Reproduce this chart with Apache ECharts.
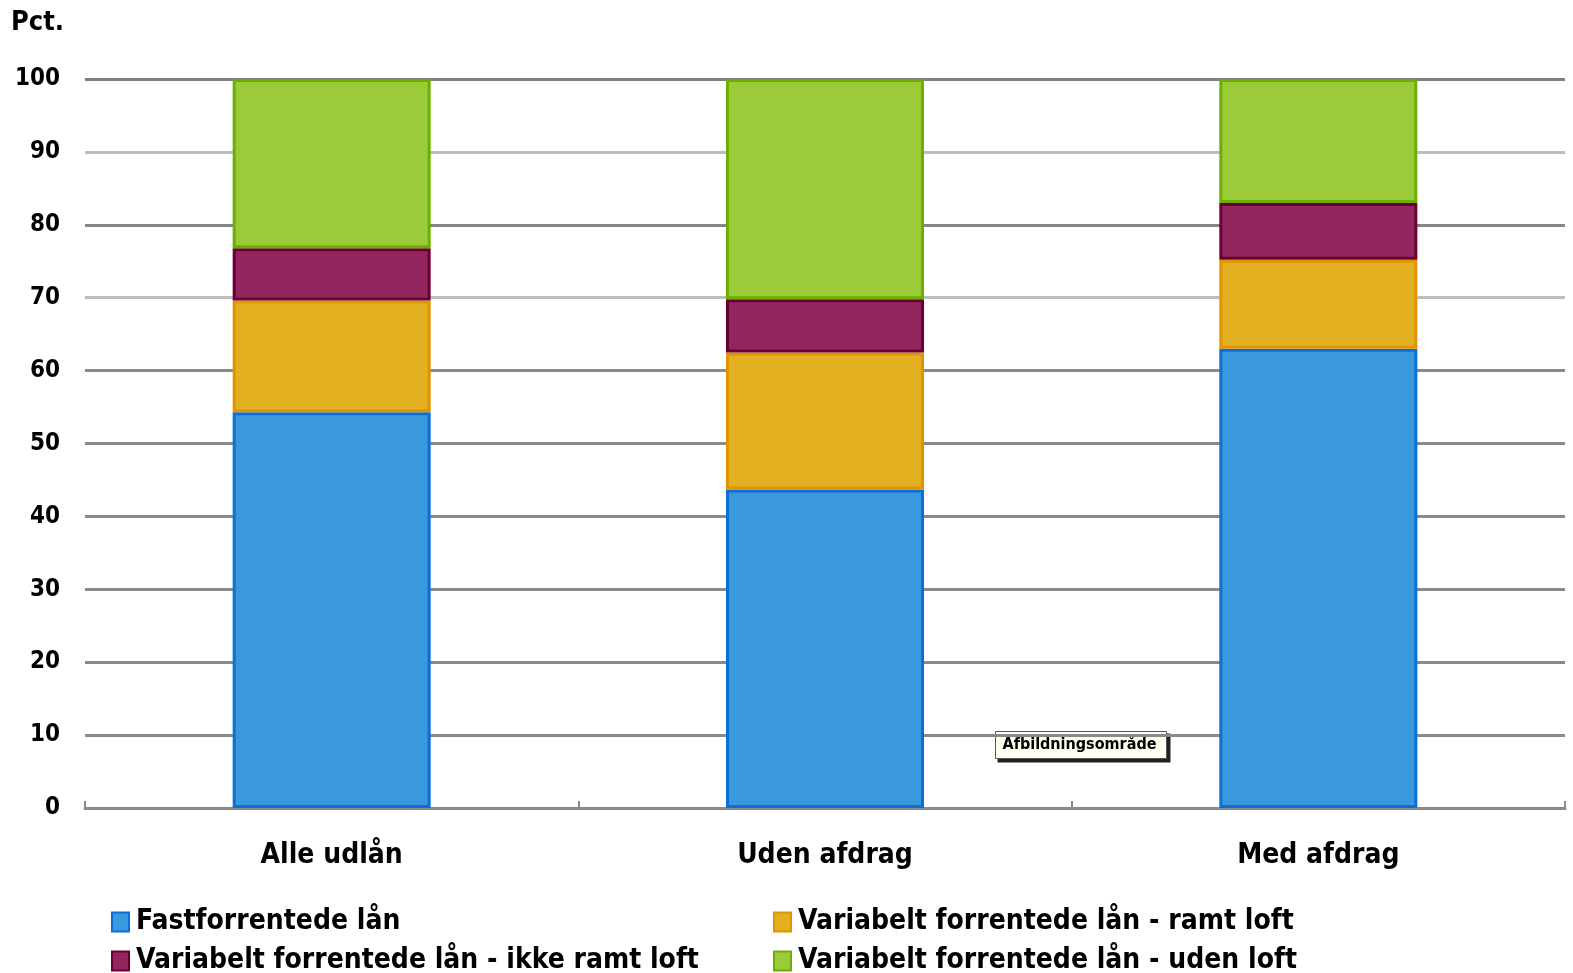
<!DOCTYPE html>
<html>
<head>
<meta charset="utf-8">
<script src="https://cdn.jsdelivr.net/npm/echarts@6/dist/echarts.min.js"></script>
<style>
  html, body { margin: 0; padding: 0; background: #fff; }
  #chart { width: 1573px; height: 973px; }
</style>
</head>
<body>
<div id="chart"></div>
<script>
// Loan groups on the x axis
const categories = ['Alle udlån', 'Uden afdrag', 'Med afdrag'];

// Share of loans by interest type, pct.
const fastforrentede = [54.3, 43.7, 63.0];
const variabelRamtLoft = [15.3, 18.8, 12.2];
const variabelIkkeRamtLoft = [7.2, 7.3, 7.8];
const variabelUdenLoft = [23.2, 30.2, 17.0];

const seriesNames = [
  'Fastforrentede lån',
  'Variabelt forrentede lån - ramt loft',
  'Variabelt forrentede lån - ikke ramt loft',
  'Variabelt forrentede lån - uden loft'
];

const yTicks = { min: 0, max: 100, interval: 10 };

const FONT = '"DejaVu Sans Condensed", "DejaVu Sans", sans-serif';

const fills = ['#3A99DD', '#E3B021', '#93265F', '#9CCB3A'];
const borders = ['#0B6FD8', '#E19400', '#6A0032', '#6BB000'];
const dataSets = [fastforrentede, variabelRamtLoft, variabelIkkeRamtLoft, variabelUdenLoft];

const chart = echarts.init(document.getElementById('chart'), null, { renderer: 'canvas' });

const series = dataSets.map((d, i) => ({
  name: seriesNames[i],
  type: 'bar',
  stack: 'total',
  data: d,
  barWidth: 198,
  itemStyle: { color: fills[i], borderColor: borders[i], borderWidth: 3 },
  emphasis: { disabled: true }
}));

// Legend placed as two rows of two items
const legendPos = [
  { left: 106, top: 903 },
  { left: 768, top: 903 },
  { left: 106, top: 942 },
  { left: 768, top: 942 }
];
const legends = seriesNames.map((n, i) => ({
  data: [{ name: n, icon: 'rect' }],
  left: legendPos[i].left,
  top: legendPos[i].top,
  itemWidth: 17,
  itemHeight: 19,
  itemGap: 10,
  selectedMode: false,
  textStyle: { fontFamily: FONT, fontSize: 28, color: '#000', fontWeight: 'bold', padding: [0, 0, 0, 2] }
}));

// Grid line shades: 70 and 90 drawn lighter
const gridShades = ['#8A8A8A', '#8A8A8A', '#8A8A8A', '#8A8A8A', '#8A8A8A', '#8A8A8A',
                    '#8A8A8A', '#BDBDBD', '#858585', '#BDBDBD', '#808080'];

chart.setOption({
  animation: false,
  backgroundColor: '#fff',
  grid: { left: 85, right: 8, top: 79, bottom: 165 },
  legend: legends,
  xAxis: {
    type: 'category',
    data: categories,
    axisLine: { show: true, lineStyle: { color: '#8A8A8A', width: 3 } },
    axisTick: { show: true, inside: true, length: 7, lineStyle: { color: '#8A8A8A', width: 2 } },
    axisLabel: { fontFamily: FONT, fontSize: 28, fontWeight: 'bold', color: '#000', margin: 34 }
  },
  yAxis: {
    type: 'value',
    min: yTicks.min,
    max: yTicks.max,
    interval: yTicks.interval,
    axisLine: { show: false },
    axisTick: { show: false },
    splitLine: { show: true, lineStyle: { color: gridShades, width: 3 } },
    axisLabel: { fontFamily: FONT, fontSize: 24, fontWeight: 'bold', color: '#000', margin: 25 }
  },
  graphic: [
    {
      type: 'text', left: 11, top: 9,
      style: { text: 'Pct.', fontFamily: FONT, fontSize: 27, fontWeight: 'bold', fill: '#000' }
    },
    {
      type: 'group', left: 995, top: 731,
      children: [
        { type: 'rect', shape: { x: 2, y: 2, width: 173, height: 29 }, style: { fill: '#222' } },
        { type: 'rect', shape: { x: 0, y: 0, width: 171, height: 27 }, style: { fill: '#FFFFF0', stroke: '#555', lineWidth: 1 } },
        { type: 'text', x: 7, y: 5, style: { text: 'Afbildningsområde', fontFamily: FONT, fontSize: 16, fontWeight: 'bold', fill: '#000' } }
      ]
    }
  ],
  series: series
});
</script>
</body>
</html>
